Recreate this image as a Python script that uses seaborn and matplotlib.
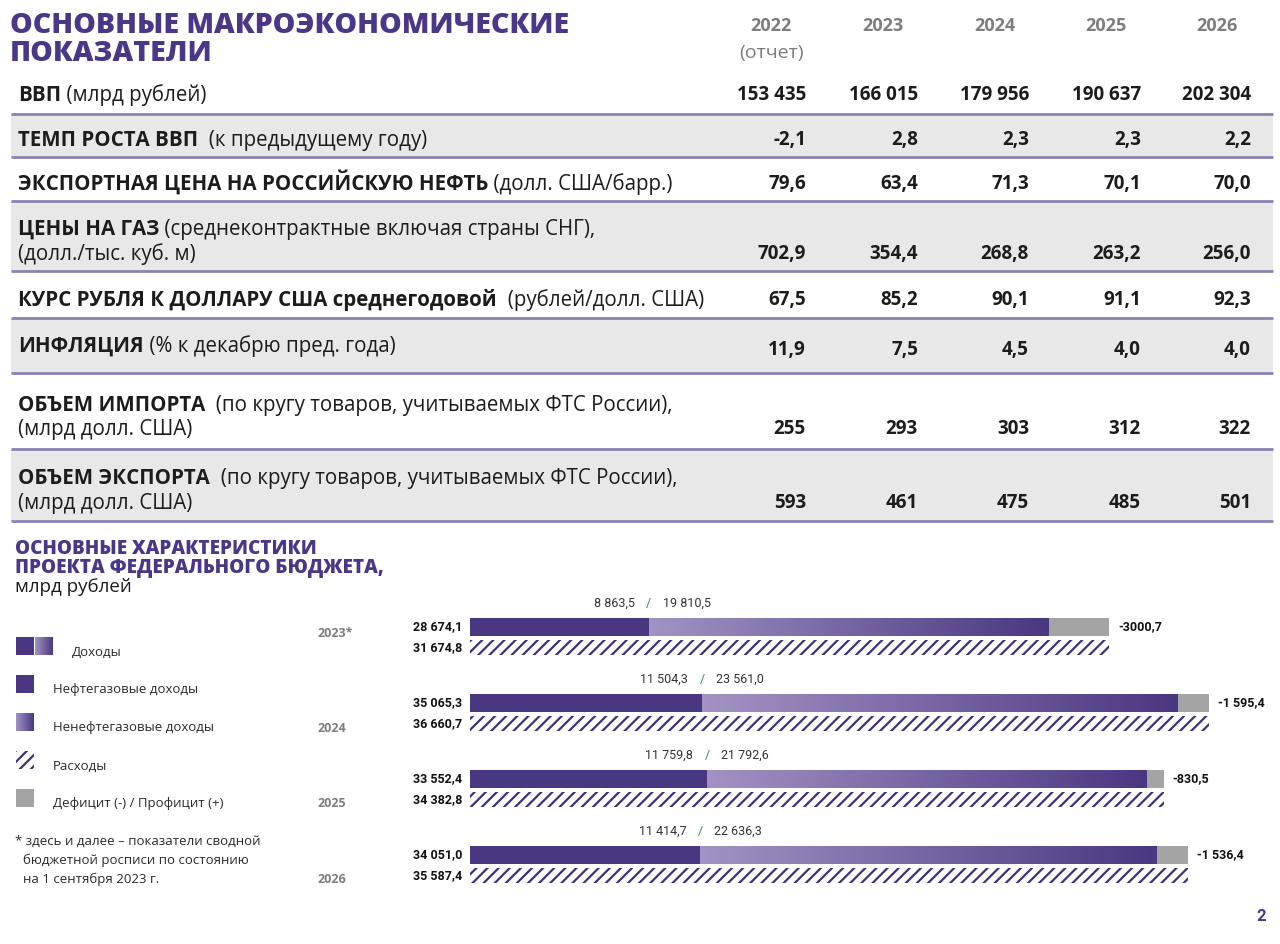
import numpy as np
import pandas as pd
import matplotlib
matplotlib.use("Agg")
import matplotlib.pyplot as plt
from matplotlib.patches import Rectangle
from matplotlib.colors import LinearSegmentedColormap
import seaborn as sns

# -------------------------------
# Data: macro table
# -------------------------------
table_years = ["2022", "2023", "2024", "2025", "2026"]
gdp = [153435, 166015, 179956, 190637, 202304]
gdp_growth = [-2.1, 2.8, 2.3, 2.3, 2.2]
urals_price = [79.6, 63.4, 71.3, 70.1, 70.0]
gas_price = [702.9, 354.4, 268.8, 263.2, 256.0]
usd_rate = [67.5, 85.2, 90.1, 91.1, 92.3]
inflation = [11.9, 7.5, 4.5, 4.0, 4.0]
imports = [255, 293, 303, 312, 322]
exports = [593, 461, 475, 485, 501]

row_labels = [
    [[("ВВП", True), (" (млрд рублей)", False)]],
    [[("ТЕМП РОСТА ВВП", True), ("  (к предыдущему году)", False)]],
    [[("ЭКСПОРТНАЯ ЦЕНА НА РОССИЙСКУЮ НЕФТЬ", True), (" (долл. США/барр.)", False)]],
    [[("ЦЕНЫ НА ГАЗ", True), (" (среднеконтрактные включая страны СНГ),", False)],
     [("(долл./тыс. куб. м)", False)]],
    [[("КУРС РУБЛЯ К ДОЛЛАРУ США среднегодовой", True), ("  (рублей/долл. США)", False)]],
    [[("ИНФЛЯЦИЯ", True), (" (% к декабрю пред. года)", False)]],
    [[("ОБЪЕМ ИМПОРТА", True), ("  (по кругу товаров, учитываемых ФТС России),", False)],
     [("(млрд долл. США)", False)]],
    [[("ОБЪЕМ ЭКСПОРТА", True), ("  (по кругу товаров, учитываемых ФТС России),", False)],
     [("(млрд долл. США)", False)]],
]
row_values = [gdp, gdp_growth, urals_price, gas_price, usd_rate, inflation, imports, exports]
row_decimals = [0, 1, 1, 1, 1, 1, 0, 0]

# -------------------------------
# Data: federal budget
# -------------------------------
budget_years = ["2023", "2024", "2025", "2026"]
budget_year_labels = ["2023*", "2024", "2025", "2026"]
revenue = [28674.1, 35065.3, 33552.4, 34051.0]
oil_gas_rev = [8863.5, 11504.3, 11759.8, 11414.7]
non_oil_gas_rev = [19810.5, 23561.0, 21792.6, 22636.3]
expenses = [31674.8, 36660.7, 34382.8, 35587.4]
deficit_labels = ["-3000,7", "-1 595,4", "-830,5", "-1 536,4"]

# colours
PURPLE = "#4b3787"
DARK = "#4a3781"
LIGHT = "#a293c4"
GRAY = "#a4a4a4"
HATCH = "#3f3179"
ROWGRAY = "#e8e8e8"
LINE = "#8a84b3"
TXT = "#1c1c1c"
YEARGRAY = "#7d7d7d"


def ru(v, d=1):
    return f"{v:,.{d}f}".replace(",", " ").replace(".", ",")


sns.set_style("white")
plt.rcParams["font.family"] = ["Open Sans", "DejaVu Sans"]
plt.rcParams["hatch.linewidth"] = 1.6
NUM = ["Roboto", "DejaVu Sans"]

fig = plt.figure(figsize=(12.8, 9.44), dpi=100)
renderer = fig.canvas.get_renderer()

# background axes in pixel coordinates
bg = fig.add_axes([0, 0, 1, 1])
bg.set_xlim(0, 1280)
bg.set_ylim(944, 0)
bg.set_axis_off()


def rich_line(x, y, parts, size, color=TXT):
    for text, bold in parts:
        t = bg.text(x, y, text, fontsize=size, fontweight="bold" if bold else "normal",
                    va="baseline", ha="left", color=color)
        x = t.get_window_extent(renderer).x1


# ===============================
# 1. Macro table
# ===============================
bg.text(10, 33, "ОСНОВНЫЕ МАКРОЭКОНОМИЧЕСКИЕ", fontsize=20.5, fontweight=800, color=PURPLE)
bg.text(10, 61, "ПОКАЗАТЕЛИ", fontsize=20.5, fontweight=800, color=PURPLE)

col_centers = [771, 883, 995, 1106, 1217]
col_right = [806, 918, 1029, 1141, 1251]
for yr, xc in zip(table_years, col_centers):
    bg.text(xc, 31, yr, fontsize=13, fontweight="bold", color=YEARGRAY, ha="center")
bg.text(col_centers[0], 58, "(отчет)", fontsize=14, color=YEARGRAY, ha="center")

row_edges = [75, 114, 157, 201, 271, 318, 373, 449, 521]
label_centers = [[94], [139], [183], [228, 253], [299], [345], [404, 428], [477, 502]]
value_centers = [94, 139, 183, 252, 299, 348, 427, 501]

for i, (lines, vals, dec) in enumerate(zip(row_labels, row_values, row_decimals)):
    top, bottom = row_edges[i], row_edges[i + 1]
    if i % 2 == 1:
        bg.add_patch(Rectangle((11, top), 1262, bottom - top, color=ROWGRAY, lw=0, zorder=0))
    for parts, yc in zip(lines, label_centers[i]):
        rich_line(18, yc + 7, parts, 14.8)
    for v, xr in zip(vals, col_right):
        bg.text(xr, value_centers[i] + 6.5, ru(v, dec), fontsize=13.5, fontweight="bold",
                color=TXT, ha="right", va="baseline")

bg.hlines(row_edges[1:], 11, 1273, color=LINE, lw=2, zorder=1)

# ===============================
# 2. Budget block: titles, legend, footnote
# ===============================
bg.text(15, 554, "ОСНОВНЫЕ ХАРАКТЕРИСТИКИ", fontsize=13.6, fontweight=800, color=PURPLE)
bg.text(15, 573, "ПРОЕКТА ФЕДЕРАЛЬНОГО БЮДЖЕТА,", fontsize=13.6, fontweight=800, color=PURPLE)
bg.text(15, 592, "млрд рублей", fontsize=13.5, color=TXT)

cmap = LinearSegmentedColormap.from_list("grad", [LIGHT, DARK])
grad = np.linspace(0, 1, 256).reshape(1, -1)

# legend swatches
bg.add_patch(Rectangle((16, 637), 18, 18, color=DARK, lw=0))
bg.imshow(grad, cmap=cmap, extent=[35, 53, 655, 637], aspect="auto")
bg.add_patch(Rectangle((16, 675), 18, 18, color=DARK, lw=0))
bg.imshow(grad, cmap=cmap, extent=[16, 34, 731, 713], aspect="auto")
bg.add_patch(Rectangle((16, 751), 18, 18, facecolor="white", edgecolor=HATCH, hatch="///", lw=0))
bg.add_patch(Rectangle((16, 789), 18, 18, color=GRAY, lw=0))
bg.set_xlim(0, 1280)
bg.set_ylim(944, 0)

legend_items = [("Доходы", 72, 655.5), ("Нефтегазовые доходы", 53, 693.5),
                ("Ненефтегазовые доходы", 53, 731.5), ("Расходы", 53, 769.5),
                ("Дефицит (-) / Профицит (+)", 53, 807.5)]
for text, x, y in legend_items:
    bg.text(x, y, text, fontsize=9.5, color="#2a2a2a")

bg.text(15, 845, "* здесь и далее – показатели сводной", fontsize=9.5, color="#2a2a2a")
bg.text(23, 864, "бюджетной росписи по состоянию", fontsize=9.5, color="#2a2a2a")
bg.text(23, 883, "на 1 сентября 2023 г.", fontsize=9.5, color="#2a2a2a")

for lbl, y in zip(budget_year_labels, [637, 732, 807, 883]):
    bg.text(318, y, lbl, fontsize=9, fontweight="bold", color=YEARGRAY)

bg.text(1266, 921, "2", fontsize=12, fontweight="bold", color=PURPLE, ha="right", family=NUM)

# ===============================
# 3. Budget bars (seaborn)
# ===============================
bud = pd.DataFrame({"год": budget_years, "доходы": revenue,
                    "нефтегаз": oil_gas_rev, "расходы": expenses})
long_df = pd.concat([bud.assign(ряд="верх"), bud.assign(ряд="низ")], ignore_index=True)
top_df = long_df[long_df["ряд"] == "верх"]

XMAX = 39660
ax = fig.add_axes([470 / 1280, 40.5 / 944, 800 / 1280, 304 / 944])
common = dict(y="год", order=budget_years, hue="ряд", hue_order=["верх", "низ"],
              orient="h", dodge=True, width=0.55, gap=0.14, errorbar=None,
              saturation=1, legend=False, linewidth=0, ax=ax)


def draw(data, col, top_color, bottom_color="white"):
    n0 = len(ax.containers)
    sns.barplot(data=data, x=col, palette={"верх": top_color, "низ": bottom_color}, **common)
    return [c for c in ax.containers[n0:] if len(c)]


# gray = expenses behind revenue (deficit part), hatched = expenses
gray_c, exp_c = draw(long_df, "расходы", GRAY)
rev_c = draw(top_df, "доходы", LIGHT)[0]
og_c = draw(top_df, "нефтегаз", DARK)[0]

for p in exp_c:
    p.set_facecolor("white")
    p.set_edgecolor(HATCH)
    p.set_hatch("///")
    p.set_linewidth(0)
    h = p.get_height()
    p.set_y(p.get_y() + h * 0.08)
    p.set_height(h * 0.84)

# non-oil-gas part as gradient
for p, og in zip(rev_c, oil_gas_rev):
    y0, h = p.get_y(), p.get_height()
    ax.imshow(grad, cmap=cmap, aspect="auto", interpolation="bicubic",
              extent=[og, p.get_x() + p.get_width(), y0 + h, y0], zorder=p.get_zorder() + 0.5)

ax.set_xlim(0, XMAX)
ax.set_ylim(3.5, -0.5)
ax.set_axis_off()

for i in range(len(budget_years)):
    top = gray_c[i]
    bot = exp_c[i]
    yt = top.get_y() + top.get_height() / 2
    yb = bot.get_y() + bot.get_height() / 2
    kw = dict(textcoords="offset pixels", va="center", fontsize=9, family=NUM)
    ax.annotate(ru(revenue[i]), (0, yt), xytext=(-8, 0), ha="right", fontweight="bold",
                color="#111111", **kw)
    ax.annotate(ru(expenses[i]), (0, yb), xytext=(-8, 0), ha="right", fontweight="bold",
                color="#111111", **kw)
    ax.annotate(deficit_labels[i], (expenses[i], yt), xytext=(9, 0), ha="left",
                fontweight="bold", color="#111111", **kw)
    ytop = top.get_y()
    ax.annotate(ru(oil_gas_rev[i]), (oil_gas_rev[i], ytop), xytext=(-14, 15), ha="right",
                color="#333333", **kw)
    ax.annotate("/", (oil_gas_rev[i], ytop), xytext=(0, 15), ha="center",
                color="#3d7f6b", **kw)
    ax.annotate(ru(non_oil_gas_rev[i]), (oil_gas_rev[i], ytop), xytext=(14, 15), ha="left",
                color="#333333", **kw)

fig.savefig("out.png", dpi=100)
